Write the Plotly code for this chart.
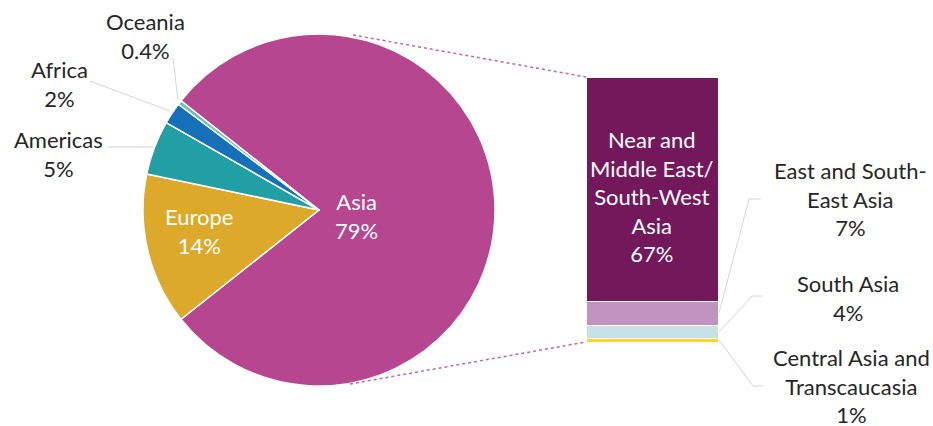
import plotly.graph_objects as go

W, H = 933, 426

# ---- data ----
regions = ["Asia", "Europe", "Americas", "Africa", "Oceania"]
region_share = [79, 14, 5, 2, 0.4]
region_labels = ["79%", "14%", "5%", "2%", "0.4%"]
region_colors = ["#B5468F", "#DCA92A", "#229FA4", "#1570B9", "#6FC0C3"]

asia_sub = ["Central Asia and<br>Transcaucasia", "South Asia",
            "East and South-<br>East Asia", "Near and<br>Middle East/<br>South-West<br>Asia"]
asia_sub_share = [1, 4, 7, 67]
asia_sub_labels = ["1%", "4%", "7%", "67%"]
asia_sub_colors = ["#F8D92C", "#C7E1E4", "#C092BF", "#74185C"]

FONT = "Lato"
FS = 22
TXT = "#262626"


def P(x, y):
    return x / W, 1 - y / H


fig = go.Figure()

# pie geometry (pixels)
cx, cy, r = 319, 210, 176
total = sum(region_share)
rot = 90 - 180 * region_share[0] / total

fig.add_trace(go.Pie(
    labels=regions, values=region_share, sort=False, direction="clockwise",
    rotation=rot, textinfo="none", hoverinfo="label+percent",
    marker=dict(colors=region_colors, line=dict(color="white", width=1.5)),
    domain=dict(x=[(cx - r) / W, (cx + r) / W], y=[1 - (cy + r) / H, 1 - (cy - r) / H]),
    showlegend=False,
))

# bar of pie
bx0, bx1, by0, by1 = 586, 718, 77, 342
for name, v, c in zip(asia_sub, asia_sub_share, asia_sub_colors):
    fig.add_trace(go.Bar(
        x=[0], y=[v], width=1, name=name.replace("<br>", " "),
        marker=dict(color=c, line=dict(color="white", width=1)),
        xaxis="x2", yaxis="y2", showlegend=False, hoverinfo="name+y",
    ))

fig.update_layout(
    width=W, height=H, margin=dict(l=0, r=0, t=0, b=0),
    paper_bgcolor="white", plot_bgcolor="white", barmode="stack",
    font=dict(family=FONT, size=FS, color=TXT),
    xaxis2=dict(domain=[bx0 / W, bx1 / W], range=[-0.5, 0.5], visible=False, anchor="y2"),
    yaxis2=dict(domain=[1 - by1 / H, 1 - by0 / H], range=[0, sum(asia_sub_share)],
                visible=False, anchor="x2"),
)

ann = []
A = dict(showarrow=False, xanchor="center", yanchor="middle")
# inside pie labels (white)
for i, (px, py) in [(0, (356, 216)), (1, (199, 231))]:
    x, y = P(px, py)
    ann.append(dict(x=x, y=y, xref="paper", yref="paper", **A,
                    text=f"{regions[i]}<br>{region_labels[i]}",
                    font=dict(color="white", size=FS, family=FONT)))
# outside pie labels
for i, (px, py) in [(2, (58, 154)), (3, (60, 84)), (4, (145, 36))]:
    x, y = P(px, py)
    ann.append(dict(x=x, y=y, xref="paper", yref="paper", **A,
                    text=f"{regions[i]}<br>{region_labels[i]}"))

# bar labels
top_mid = sum(asia_sub_share[:3]) + asia_sub_share[3] / 2
ann.append(dict(x=0, y=top_mid, xref="x2", yref="y2", **A, yshift=-7,
                text=f"{asia_sub[3]}<br>{asia_sub_labels[3]}",
                font=dict(color="white", size=FS, family=FONT)))
for i, (px, py) in [(2, (850, 199)), (1, (848, 298)), (0, (851, 386))]:
    x, y = P(px, py)
    ann.append(dict(x=x, y=y, xref="paper", yref="paper", **A,
                    text=f"{asia_sub[i]}<br>{asia_sub_labels[i]}"))

shapes = []


def path(pts, color, width, dash="solid"):
    d = "M " + " L ".join(f"{P(x, y)[0]:.5f},{P(x, y)[1]:.5f}" for x, y in pts)
    shapes.append(dict(type="path", path=d, xref="paper", yref="paper",
                       line=dict(color=color, width=width, dash=dash)))


LEAD = "#D6D6D6"
# pie leader lines
path([(108, 147), (153, 147)], LEAD, 1)
path([(90, 81), (170, 111)], LEAD, 1)
path([(173, 58), (178, 100)], LEAD, 1)
# bar leader lines
path([(761, 199), (749, 199), (719, 313)], LEAD, 1)
path([(763, 296), (752, 296), (719, 332)], LEAD, 1)
path([(719, 340), (753, 386), (763, 386)], LEAD, 1)
# connector dotted lines
path([(353, 35), (bx0, by0)], "#C565A6", 1.5, "dot")
path([(350, 384), (bx0, by1)], "#C565A6", 1.5, "dot")

fig.update_layout(annotations=ann, shapes=shapes)
fig.write_html("out.html", config={"displayModeBar": False},
               post_script="document.body.style.margin='0px';")
